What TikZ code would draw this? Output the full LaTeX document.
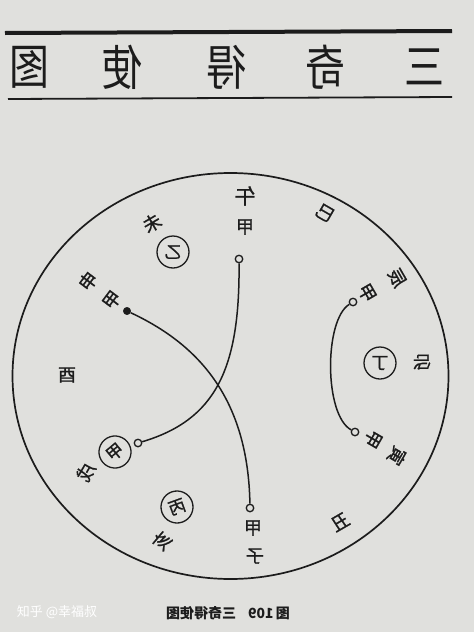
\documentclass[tikz,border=0pt]{standalone}
\usepackage{fontspec}
\usepackage{graphicx}
\newfontfamily\cjk{Noto Sans CJK SC}
\newfontfamily\cjkh[FakeBold=1.2]{Noto Sans CJK SC}
\definecolor{paper}{RGB}{224,224,221}
\definecolor{ink}{RGB}{28,28,28}
\begin{document}
\begin{tikzpicture}[x=1pt,y=-1pt,
  lbl/.style={font=\cjkh\fontsize{18}{18}\selectfont, text=ink, inner sep=0pt},
  ring/.style={draw=ink, line width=1.3pt, circle, minimum size=32pt, inner sep=0pt, font=\cjkh\fontsize{17}{17}\selectfont, text=ink},
  hollowdot/.style={draw=ink, fill=paper, circle, line width=1.3pt, minimum size=7.5pt, inner sep=0pt},
  soliddot/.style={draw=ink, fill=ink, circle, minimum size=7.5pt, inner sep=0pt},
  link/.style={draw=ink, line width=1.5pt},
  ttl/.style={font=\cjk\fontsize{40}{40}\selectfont, text=ink, inner sep=0pt, yscale=1.2}]
\fill[paper] (0,0) rectangle (474,632);
\useasboundingbox (0,0) rectangle (474,632);
% header rules
\draw[ink, line width=4pt] (5,33) -- (452,31);
\draw[ink, line width=1.8pt] (8,99) -- (452,97);
% title (mirrored)
\node[ttl] (t1) at (30,67) {\reflectbox{图}};
\node[ttl] (t2) at (122,67) {\reflectbox{使}};
\node[ttl] (t3) at (226,67) {\reflectbox{得}};
\node[ttl] (t4) at (325,67) {\reflectbox{奇}};
\node[ttl] (t5) at (424,67) {\reflectbox{三}};
% main circle
\draw[ink, line width=1.7pt] (230.5,376) ellipse (218pt and 203pt);
% labels
\node[lbl, font=\cjkh\fontsize{21}{21}\selectfont] (wu) at (245,196) {\reflectbox{午}};
\node[lbl] (jia1) at (245,227) {\reflectbox{甲}};
\node[hollowdot] (d1) at (239,259) {};
\node[lbl, rotate=30] (wei) at (152,223) {\reflectbox{未}};
\node[ring] (yi) at (173,252) {\reflectbox{乙}};
\node[lbl, rotate=-30] (si) at (325,213) {\reflectbox{巳}};
\node[lbl, rotate=-60] (chen) at (397,278) {\reflectbox{辰}};
\node[lbl, rotate=-60] (jia2) at (367,293) {\reflectbox{甲}};
\node[hollowdot] (d2) at (353,302) {};
\node[ring] (ding) at (380,363) {\reflectbox{丁}};
\node[lbl, rotate=-90] (mao) at (422,362) {\reflectbox{卯}};
\node[hollowdot] (d3) at (355,432) {};
\node[lbl, rotate=-120] (jia3) at (373,439) {\reflectbox{甲}};
\node[lbl, rotate=-120] (yin) at (397,456) {\reflectbox{寅}};
\node[lbl, rotate=30] (chou) at (340,522) {\reflectbox{丑}};
\node[hollowdot] (d4) at (250,508) {};
\node[lbl] (jia4) at (253,528) {\reflectbox{甲}};
\node[lbl] (zi) at (255,556) {\reflectbox{子}};
\node[ring, rotate=20] (bing) at (177,507) {\reflectbox{丙}};
\node[lbl, rotate=50] (hai) at (162,541) {\reflectbox{亥}};
\node[hollowdot] (d5) at (138,443) {};
\node[ring, rotate=40] (jia6) at (115,452) {\reflectbox{甲}};
\node[lbl, rotate=60] (xu) at (86,472) {\reflectbox{戌}};
\node[lbl] (you) at (67,375) {\reflectbox{酉}};
\node[soliddot] (d6) at (127,311) {};
\node[lbl, rotate=53] (jia5) at (112,300) {\reflectbox{甲}};
\node[lbl, rotate=53] (shen) at (88,281) {\reflectbox{申}};
% connectors
\draw[link] (d1) .. controls (240,370) and (215,420) .. (d5);
\draw[link] (d6) .. controls (200,345) and (248,400) .. (d4);
\draw[link] (d2) .. controls (324,320) and (324,415) .. (d3);
% caption and watermark
\node[font=\cjk\bfseries\fontsize{14}{14}\selectfont, text=ink, inner sep=0pt] (cap) at (228,613) {\reflectbox{图\,109\hspace{12pt}三奇得使图}};
\node[font=\cjk\fontsize{13}{13}\selectfont, text=white, inner sep=0pt] (wm) at (57,612) {知乎\ @幸福叔};
\end{tikzpicture}
\end{document}
